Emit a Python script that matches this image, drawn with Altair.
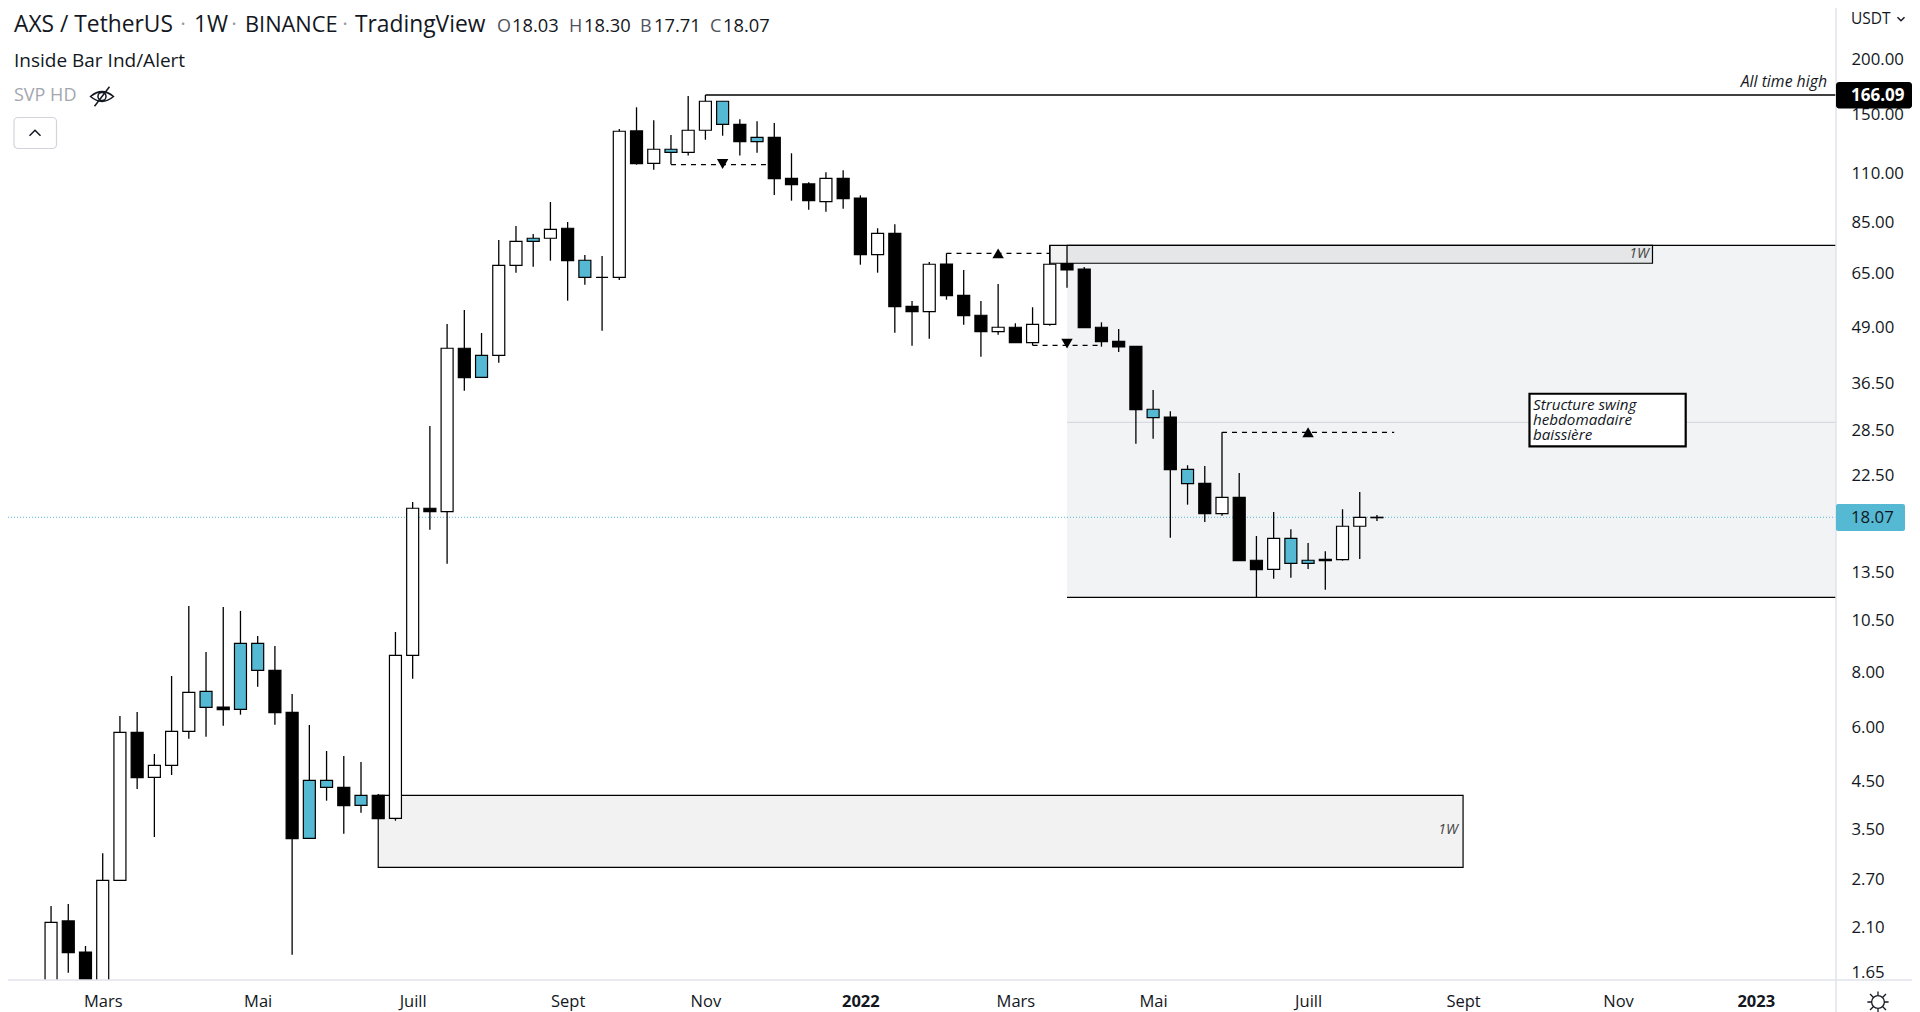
import altair as alt
import pandas as pd

FONT = "Open Sans"
INK = "#131722"
CYAN = "#55B9D3"
AXISLINE = "#e0e3eb"

first_week = "2021-02-08"
kinds = list("wbbwwbwwwc" "bccbbccbcb" "wwbwbcwwcw" "bcwwbwcwwc" "bcbbbwbbwb" "bwbbbwbwwb" "bbbbcbcbwb" "bwccbwww")
tops = [2.153,2.168,1.842,2.684,5.841,5.841,4.911,5.872,7.207,7.245,6.671,9.322,9.322,8.09,6.488,4.539,4.539,4.375,4.195,4.195,
        8.753,18.95,18.95,43.91,43.91,42.32,67.9,77.02,78.25,82.03,
        82.47,69.71,63.75,137.3,137.5,124.9,124.9,138,160.7,160.7,142.4,133,133,107.2,104.1,107.2,107.2,96.69,80.33,80.33,
        54.74,68.26,68.36,58,52.22,49.03,49.03,49.8,68.26,68.54,66.59,49.03,45.55,44.37,31.87,30.6,23.25,21.6,20.07,20.07,
        14.42,16.18,16.18,14.42,14.49,17.24,18.07,18.07]
bottoms = [1.358,1.835,1.394,1.358,2.684,4.602,4.611,4.911,5.872,6.661,6.577,6.591,8.09,6.474,3.34,3.347,4.375,3.972,3.981,3.71,
           3.718,8.753,18.61,18.61,37.62,37.7,42.32,67.9,77.02,78.25,
           69.56,63.75,63.75,63.75,115.8,116,122.9,122.9,138,142.4,130,130,107,103.7,95.33,94.83,96.34,71.79,71.79,54.63,
           53.21,53.21,57.88,52.11,47.91,47.91,45.22,45.22,49.8,66.24,48.92,45.45,44.21,31.8,30.49,23.2,21.56,18.42,18.42,14.39,
           13.72,13.75,14.19,14.19,14.39,14.46,17.24,18.03]
highs = [2.345,2.37,1.901,3.094,6.363,6.498,5.212,7.851,11.34,8.906,11.28,11.05,9.687,9.191,7.143,6.069,5.295,5.157,4.997,4.224,
         9.893,19.58,29.19,49.88,53.69,47.58,77.55,83.47,80.03,94.68,
         85.24,71.67,71.3,138.9,155.7,145.4,134.6,165.2,166.09,160.7,146.2,144.7,143.4,122.3,105,110.7,111.8,98.07,82.47,84.22,
         56.29,69.09,72.32,66.24,56.29,61.55,50.07,54.46,75.42,75.42,67.3,50.33,48.59,44.37,35.27,31.54,23.75,23.66,28.24,22.81,
         16.38,18.58,16.97,15.79,15.12,18.85,20.64,18.30]
lows = [1.289,1.652,1.323,1.358,2.684,4.337,3.37,4.667,5.648,5.708,6.047,6.407,7.422,6.079,1.816,3.347,4.078,3.429,3.829,3.71,
        3.671,7.74,16.93,14.16,35.14,37.7,40.71,65.31,67.4,69.56,
        56.38,61.32,48.16,62.85,115.2,112.2,115.4,120.8,131.3,134.1,120.8,122.7,98.23,95.33,90.93,89.98,91.41,68.11,65.31,47.65,
        44.51,46.18,56.67,49.7,42.01,47.16,45.22,44.6,49.44,60.36,48.92,44.28,43.06,26.6,27.31,16.23,19.31,17.63,18.22,14.39,
        11.87,13.09,13.16,13.77,12.35,14.39,14.52,17.71]

y_ticks = [200,150,110,85,65,49,36.5,28.5,22.5,13.5,10.5,8,6,4.5,3.5,2.7,2.1,1.65]
x_ticks = ["2021-03-01","2021-05-03","2021-07-05","2021-09-06","2021-11-01","2022-01-03",
           "2022-03-07","2022-05-02","2022-07-04","2022-09-05","2022-11-07","2023-01-02"]
x_start, x_end = "2021-01-21T12:00:00", "2023-02-03T14:24:00"
y_low, y_high = 1.590, 262.3

last_price, ath = 18.07, 166.09

n = len(kinds)
candles = pd.DataFrame({
    "d": pd.date_range(first_week, periods=n, freq="7D").strftime("%Y-%m-%dT00:00:00"),
    "kind": kinds, "top": tops, "bottom": bottoms, "high": highs, "low": lows})

xs = alt.Scale(domain=[x_start, x_end], padding=0)
ys = alt.Scale(type="log", domain=[y_low, y_high], nice=False, zero=False)

def T(s):
    return s + "T00:00:00"

x_axis = alt.Axis(values=[T(v) for v in x_ticks], ticks=False, domain=False, grid=False, title=None,
                  labelFont=FONT, labelFontSize=16.5, labelColor=INK, labelPadding=13,
                  labelOverlap=False, labelFlush=False,
                  labelFontWeight={"condition": {"test": "month(datum.value)==0", "value": "bold"}, "value": "normal"},
                  labelExpr="month(datum.value)==0 ? timeFormat(datum.value,'%Y') : "
                            "month(datum.value)==2 ? 'Mars' : month(datum.value)==4 ? 'Mai' : "
                            "month(datum.value)==6 ? 'Juill' : month(datum.value)==8 ? 'Sept' : 'Nov'")
y_axis = alt.Axis(orient="right", values=y_ticks, format=".2f", ticks=False, domain=False, grid=False, title=None,
                  labelFont=FONT, labelFontSize=16.8, labelColor=INK, labelPadding=15, labelOverlap=False)

def X(f="a"):
    return alt.X(f + ":T", scale=xs, axis=x_axis, title=None)
def Y(f="p"):
    return alt.Y(f + ":Q", scale=ys, axis=y_axis, title=None)

def zone(a, b, lo, hi, **kw):
    df = pd.DataFrame({"a": [a], "b": [b], "lo": [lo], "hi": [hi]})
    return alt.Chart(df).mark_rect(clip=True, **kw).encode(x=X("a"), x2=alt.X2("b:T"), y=Y("lo"), y2=alt.Y2("hi:Q"))

def hline(a, b, p, **kw):
    df = pd.DataFrame({"a": [a], "b": [b], "p": [p]})
    return alt.Chart(df).mark_rule(clip=True, **kw).encode(x=X("a"), x2=alt.X2("b:T"), y=Y("p"))

def tri(a, p, shape):
    df = pd.DataFrame({"a": [a], "p": [p]})
    return alt.Chart(df).mark_point(shape=shape, filled=True, color="black", opacity=1, size=130).encode(x=X("a"), y=Y("p"))

def text(px, py, s, size=15.5, color=INK, style="normal", weight="normal", align="left"):
    df = pd.DataFrame({"t": [s]})
    return alt.Chart(df).mark_text(align=align, baseline="middle", font=FONT, fontSize=size, color=color,
                                   fontStyle=style, fontWeight=weight).encode(
        x=alt.value(px - 8), y=alt.value(py - 8), text="t:N")

def box(x0, x1, y0, y1, **kw):
    df = pd.DataFrame({"k": [0]})
    return alt.Chart(df).mark_rect(**kw).encode(x=alt.value(x0 - 8), x2=alt.value(x1 - 8),
                                                y=alt.value(y0 - 8), y2=alt.value(y1 - 8))

def icon(px, py, path, size, color=INK, sw=1.5):
    df = pd.DataFrame({"k": [0]})
    return alt.Chart(df).mark_point(shape=path, size=size, filled=False, stroke=color, strokeWidth=sw, opacity=1).encode(
        x=alt.value(px - 8), y=alt.value(py - 8))

frame_v = alt.Chart(pd.DataFrame({"k": [0]})).mark_rule(color=AXISLINE, strokeWidth=1.5).encode(
    x=alt.value(1828), y=alt.value(0), y2=alt.value(1004))
frame_h = alt.Chart(pd.DataFrame({"k": [0]})).mark_rule(color=AXISLINE, strokeWidth=1.5).encode(
    y=alt.value(972), x=alt.value(0), x2=alt.value(1904))

wicks = alt.Chart(candles).mark_rule(color="black", strokeWidth=1.3, clip=True).encode(
    x=X("d"), y=Y("high"), y2=alt.Y2("low:Q"))
bodies = alt.Chart(candles).mark_bar(size=12, stroke="black", strokeWidth=1.2, clip=True, opacity=1).encode(
    x=X("d"), y=Y("top"), y2=alt.Y2("bottom:Q"),
    fill=alt.Fill("kind:N", legend=None, scale=alt.Scale(domain=["w", "b", "c"], range=["white", "black", CYAN])))

layers = [
    zone(T("2022-03-28"), x_end, 11.87, 75.42, color="#f2f3f5"),
    hline(T("2022-03-28"), x_end, 29.76, color="#d1d4dc", strokeWidth=1),
    hline(T("2022-03-28"), x_end, 75.42, color="black", strokeWidth=1.2),
    hline(T("2022-03-28"), x_end, 11.87, color="black", strokeWidth=1.2),
    zone(T("2021-06-21"), T("2022-09-05"), 2.874, 4.195, color="#f2f2f2", stroke="black", strokeWidth=1.2),
    zone(T("2022-03-21"), T("2022-11-21"), 68.62, 75.42, fill="black", fillOpacity=0.05, stroke="black", strokeWidth=1.2),
    hline(x_start, x_end, last_price, color=CYAN, strokeWidth=1, strokeDash=[1, 2]),
    hline(T("2021-11-01"), x_end, ath, color="black", strokeWidth=1.3),
    hline(T("2021-10-18"), T("2021-11-29"), 115.2, color="black", strokeWidth=1.2, strokeDash=[5, 5]),
    hline(T("2022-02-07"), T("2022-03-21"), 72.3, color="black", strokeWidth=1.2, strokeDash=[5, 5]),
    hline(T("2022-03-14"), T("2022-04-11"), 44.6, color="black", strokeWidth=1.2, strokeDash=[5, 5]),
    hline(T("2022-05-30"), T("2022-08-08"), 28.24, color="black", strokeWidth=1.2, strokeDash=[5, 5]),
    wicks,
    bodies,
    tri(T("2021-11-08"), 115.6, "triangle-down"),
    tri(T("2022-02-28"), 72.3, "triangle-up"),
    tri(T("2022-03-28"), 45.0, "triangle-down"),
    tri(T("2022-07-04"), 28.24, "triangle-up"),
    zone("2022-10-02T00:00:00", "2022-12-04T12:00:00", 26.24, 34.58, fill="white", stroke="black", strokeWidth=2.2),
    text(1533, 405, "Structure swing", 15.2, style="italic"),
    text(1533, 420, "hebdomadaire", 15.2, style="italic"),
    text(1533, 435, "baissière", 15.2, style="italic"),
    text(1827, 82, "All time high", 15.8, style="italic", align="right"),
    text(1649, 254, "1W", 14, "#444444", "italic", align="right"),
    text(1458, 830, "1W", 14, "#444444", "italic", align="right"),
    frame_v, frame_h,
    box(1836, 1912, 82, 108.5, color="black", cornerRadius=3),
    text(1851, 95.5, "166.09", 17, "white", weight="bold"),
    box(1836, 1905, 504, 531, color=CYAN, cornerRadius=2),
    text(1851, 518, "18.07", 16.8, INK),
    text(1851, 19, "USDT", 15.5),
    icon(1901, 19, "M-1 -0.5 L0 0.5 L1 -0.5", 49),
    icon(1878, 1002, "M-0.6 0 A0.6 0.6 0 1 0 0.6 0 A0.6 0.6 0 1 0 -0.6 0 M0 -1 L0 -0.6 M0 0.6 L0 1 M-1 0 L-0.6 0 M0.6 0 L1 0 "
                     "M-0.75 -0.75 L-0.45 -0.45 M0.75 -0.75 L0.45 -0.45 M-0.75 0.75 L-0.45 0.45 M0.75 0.75 L0.45 0.45", 450, sw=1.3),
    text(14, 25, "AXS / TetherUS", 22.8),
    text(181, 25, "•", 11, "#9598a1"),
    text(194, 25, "1W", 22.8),
    text(232, 25, "•", 11, "#9598a1"),
    text(245, 25, "BINANCE", 21.8),
    text(343, 25, "•", 11, "#9598a1"),
    text(355, 25, "TradingView", 22.8),
    text(497, 27, "O", 18, "#50535e"), text(512, 27, "18.03", 18.3),
    text(569, 27, "H", 18, "#50535e"), text(584, 27, "18.30", 18.3),
    text(640, 27, "B", 18, "#50535e"), text(654, 27, "17.71", 18.3),
    text(710, 27, "C", 18, "#50535e"), text(723, 27, "18.07", 18.3),
    text(14, 60.5, "Inside Bar Ind/Alert", 19),
    text(14, 96, "SVP HD", 18, "#a3a6af"),
    icon(102, 96.5, "M-1 0 Q0 -0.85 1 0 Q0 0.85 -1 0 Z M-0.35 0 A0.35 0.35 0 1 0 0.35 0 A0.35 0.35 0 1 0 -0.35 0 M-0.65 0.85 L0.65 -0.85", 529),
    box(14, 56.5, 117.5, 148.5, fill="white", stroke="#d1d4dc", strokeWidth=1.2, cornerRadius=4),
    icon(35, 133, "M-1 0.5 L0 -0.5 L1 0.5", 121),
]

chart = alt.layer(*layers).properties(
    width=1828, height=972,
    autosize=alt.AutoSizeParams(type="none"),
    padding={"left": 0, "top": 0, "right": 76, "bottom": 32},
    background="white",
).configure_view(stroke=None)

chart.save("out.html", embed_options={"renderer": "svg", "actions": False})
